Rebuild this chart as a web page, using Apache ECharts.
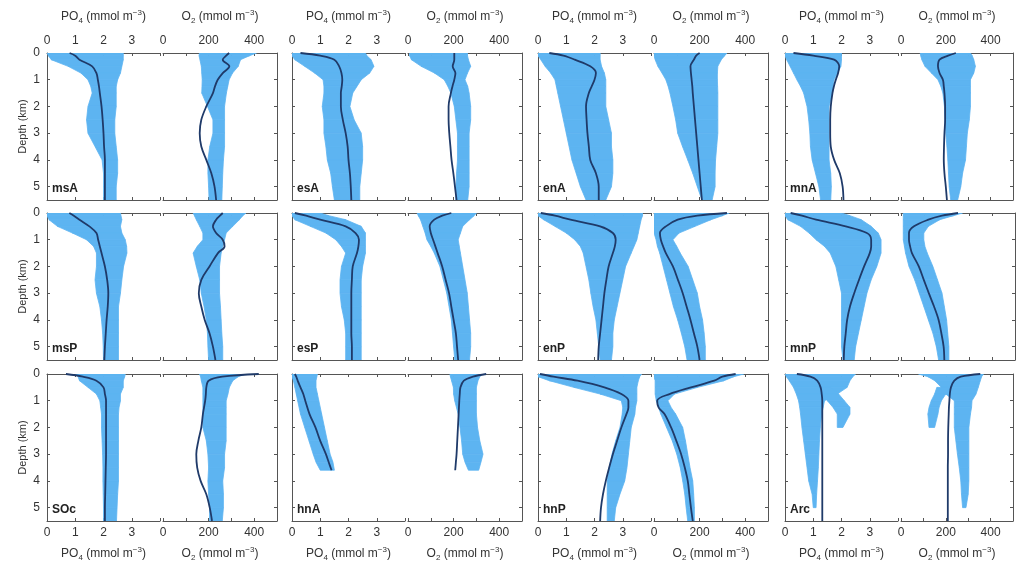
<!DOCTYPE html>
<html>
<head>
<meta charset="utf-8">
<script src="https://cdn.jsdelivr.net/npm/echarts@6/dist/echarts.min.js"></script>
<style>
  html, body { margin: 0; padding: 0; background: #fff; }
  #chart { width: 1016px; height: 567px; }
</style>
</head>
<body>
<div id="chart"></div>
<script>
// Depth levels (km) shared by the profiles
const DEPTH = [0, 0.1, 0.25, 0.5, 0.75, 1, 1.25, 1.5, 2, 2.5, 3, 3.5, 4, 4.5, 5, 5.5];
const HNA_DEPTH = [0, 0.1, 0.25, 0.5, 0.75, 1, 1.5, 2, 2.5, 3, 3.3, 3.6];
const DEPTH_TICKS = [0, 1, 2, 3, 4, 5];
const PO4_TICKS = [0, 1, 2, 3];
const O2_TICKS = [0, 200, 400];

// ---- msA ----
const msA_po4_lo   = [0, 0.05, 0.15, 0.75, 1.2, 1.45, 1.55, 1.6, 1.45, 1.4, 1.45, 1.7, 1.95, 2.0, 2.0, 2.0];
const msA_po4_hi   = [2.7, 2.7, 2.7, 2.65, 2.6, 2.5, 2.45, 2.45, 2.45, 2.4, 2.4, 2.45, 2.5, 2.5, 2.45, 2.45];
const msA_po4_line = [0.8, 1.0, 1.15, 1.6, 1.75, 1.8, 1.84, 1.87, 1.93, 1.97, 2.0, 2.02, 2.05, 2.05, 2.05, 2.05];
const msA_o2_lo    = [160, 158, 162, 168, 170, 172, 171, 170, 195, 219, 219, 205, 197, 197, 200, 202];
const msA_o2_hi    = [410, 380, 340, 330, 305, 290, 284, 278, 270, 270, 270, 270, 265, 262, 260, 258];
const msA_o2_line  = [290, 277, 262, 291, 262, 240, 228, 219, 190, 168, 161, 168, 190, 212, 226, 233];

// ---- esA ----
const esA_po4_lo   = [0, 0, 0.1, 0.45, 0.8, 1.1, 1.13, 1.13, 1.07, 1.13, 1.13, 1.2, 1.25, 1.37, 1.43, 1.5];
const esA_po4_hi   = [2.6, 2.65, 2.8, 2.9, 2.75, 2.45, 2.3, 2.15, 2.05, 2.2, 2.45, 2.5, 2.5, 2.45, 2.4, 2.4];
const esA_po4_line = [0.3, 1.0, 1.5, 1.67, 1.75, 1.78, 1.76, 1.73, 1.73, 1.8, 1.9, 1.97, 2.0, 2.05, 2.08, 2.1];
const esA_o2_lo    = [7, 7, 15, 58, 116, 159, 175, 188, 203, 210, 217, 217, 217, 213, 210, 210];
const esA_o2_hi    = [261, 261, 265, 275, 261, 250, 262, 268, 275, 275, 268, 268, 268, 268, 268, 262];
const esA_o2_line  = [203, 203, 203, 196, 208, 203, 195, 188, 178, 178, 181, 186, 191, 199, 206, 213];

// ---- enA ----
const enA_po4_lo   = [0, 0, 0.1, 0.25, 0.45, 0.6, 0.65, 0.7, 0.8, 0.9, 1.0, 1.1, 1.2, 1.35, 1.5, 1.7];
const enA_po4_hi   = [2.2, 2.2, 2.2, 2.25, 2.35, 2.4, 2.4, 2.4, 2.4, 2.5, 2.6, 2.6, 2.65, 2.65, 2.6, 2.4];
const enA_po4_line = [0.4, 0.9, 1.3, 1.85, 2.05, 2.0, 1.9, 1.8, 1.7, 1.72, 1.75, 1.8, 1.85, 2.05, 2.15, 2.15];
const enA_o2_lo    = [0, 0, 5, 17, 35, 52, 62, 70, 83, 95, 104, 125, 148, 170, 190, 210];
const enA_o2_hi    = [320, 310, 295, 280, 278, 278, 279, 280, 280, 280, 280, 275, 270, 268, 268, 255];
const enA_o2_line  = [200, 185, 175, 160, 162, 165, 168, 170, 175, 180, 185, 190, 195, 200, 205, 210];

// ---- mnA ----
const mnA_po4_lo   = [0, 0, 0.06, 0.18, 0.3, 0.42, 0.55, 0.66, 0.78, 0.84, 0.88, 0.9, 0.96, 1.08, 1.2, 1.26];
const mnA_po4_hi   = [2.0, 2.0, 2.0, 1.98, 1.86, 1.74, 1.7, 1.68, 1.56, 1.56, 1.56, 1.56, 1.56, 1.62, 1.64, 1.62];
const mnA_po4_line = [0.3, 1.0, 1.74, 1.92, 1.88, 1.8, 1.73, 1.68, 1.62, 1.6, 1.6, 1.62, 1.74, 1.94, 2.04, 2.07];
const mnA_o2_lo    = [86, 88, 93, 107, 136, 165, 178, 187, 194, 197, 200, 205, 209, 212, 215, 222];
const mnA_o2_hi    = [310, 318, 325, 332, 325, 310, 310, 310, 310, 305, 296, 292, 288, 275, 267, 253];
const mnA_o2_line  = [245, 210, 172, 165, 172, 187, 191, 194, 197, 197, 194, 192, 191, 194, 200, 205];

// ---- msP ----
const msP_po4_lo   = [0, 0, 0.07, 0.37, 0.9, 1.4, 1.65, 1.75, 1.75, 1.7, 1.75, 1.87, 1.93, 1.97, 1.99, 2.0];
const msP_po4_hi   = [2.6, 2.62, 2.65, 2.6, 2.65, 2.77, 2.82, 2.83, 2.71, 2.65, 2.6, 2.53, 2.53, 2.53, 2.53, 2.53];
const msP_po4_line = [0.79, 0.95, 1.15, 1.5, 1.75, 1.81, 1.87, 1.93, 2.05, 2.13, 2.17, 2.15, 2.11, 2.08, 2.05, 2.03];
const msP_o2_lo    = [132, 138, 146, 161, 175, 175, 150, 132, 146, 161, 168, 180, 190, 195, 197, 200];
const msP_o2_hi    = [364, 350, 335, 306, 277, 270, 262, 255, 248, 248, 248, 252, 255, 258, 262, 262];
const msP_o2_line  = [262, 250, 233, 219, 233, 262, 270, 241, 204, 168, 157, 168, 183, 204, 219, 230];

// ---- esP ----
const esP_po4_lo   = [0, 0, 0.1, 0.65, 1.2, 1.55, 1.75, 1.9, 1.75, 1.7, 1.7, 1.75, 1.85, 1.9, 1.9, 1.9];
const esP_po4_hi   = [1.0, 1.3, 1.9, 2.45, 2.6, 2.6, 2.6, 2.6, 2.5, 2.45, 2.45, 2.45, 2.45, 2.45, 2.45, 2.45];
const esP_po4_line = [0.1, 0.5, 1.0, 1.9, 2.25, 2.37, 2.35, 2.3, 2.15, 2.12, 2.1, 2.1, 2.1, 2.1, 2.12, 2.12];
const esP_o2_lo    = [40, 45, 55, 65, 75, 83, 100, 115, 140, 155, 170, 180, 190, 195, 200, 205];
const esP_o2_hi    = [300, 290, 270, 240, 230, 220, 225, 230, 240, 250, 260, 265, 270, 275, 275, 270];
const esP_o2_line  = [190, 150, 115, 95, 100, 110, 120, 130, 150, 165, 180, 190, 200, 210, 215, 220];

// ---- enP ----
const enP_po4_lo   = [0, 0, 0.2, 0.6, 1.0, 1.3, 1.5, 1.6, 1.7, 1.8, 1.87, 1.95, 2.05, 2.1, 2.15, 2.2];
const enP_po4_hi   = [3.7, 3.7, 3.65, 3.6, 3.55, 3.5, 3.4, 3.3, 3.1, 3.0, 2.9, 2.8, 2.7, 2.65, 2.65, 2.6];
const enP_po4_line = [0.1, 0.6, 1.15, 2.2, 2.65, 2.75, 2.72, 2.65, 2.5, 2.42, 2.35, 2.3, 2.25, 2.2, 2.15, 2.13];
const enP_o2_lo    = [0, 0, 0, 0, 0, 9, 15, 25, 40, 55, 70, 85, 104, 120, 135, 145];
const enP_o2_hi    = [330, 300, 250, 180, 110, 83, 100, 115, 150, 170, 190, 200, 213, 220, 225, 225];
const enP_o2_line  = [320, 190, 104, 52, 26, 30, 40, 52, 83, 105, 126, 143, 160, 175, 190, 200];

// ---- mnP ----
const mnP_po4_lo   = [0, 0, 0.1, 0.55, 0.85, 1.1, 1.4, 1.6, 1.8, 1.9, 2.0, 2.0, 2.0, 2.0, 2.0, 2.05];
const mnP_po4_hi   = [2.0, 2.3, 2.7, 3.05, 3.3, 3.4, 3.4, 3.4, 3.25, 3.05, 2.9, 2.8, 2.7, 2.6, 2.5, 2.45];
const mnP_po4_line = [0.2, 0.6, 1.1, 2.15, 2.9, 3.05, 3.05, 3.0, 2.8, 2.62, 2.45, 2.3, 2.2, 2.15, 2.1, 2.08];
const mnP_o2_lo    = [10, 10, 10, 10, 10, 10, 15, 20, 35, 60, 80, 100, 120, 140, 155, 165];
const mnP_o2_hi    = [270, 230, 170, 120, 100, 100, 105, 115, 140, 160, 180, 190, 200, 205, 210, 210];
const mnP_o2_line  = [250, 180, 120, 57, 35, 35, 40, 48, 78, 100, 122, 145, 165, 177, 187, 190];

// ---- SOc ----
const SOc_po4_lo   = [1.0, 1.1, 1.15, 1.45, 1.75, 1.87, 1.9, 1.93, 1.93, 1.95, 1.97, 1.98, 1.98, 1.99, 2.0, 2.0];
const SOc_po4_hi   = [2.77, 2.75, 2.7, 2.7, 2.6, 2.6, 2.55, 2.53, 2.53, 2.53, 2.53, 2.53, 2.53, 2.5, 2.48, 2.46];
const SOc_po4_line = [0.67, 1.27, 1.75, 2.0, 2.05, 2.09, 2.09, 2.09, 2.09, 2.09, 2.09, 2.08, 2.07, 2.06, 2.05, 2.05];
const SOc_o2_lo    = [160, 165, 168, 175, 175, 175, 175, 175, 175, 190, 197, 200, 197, 200, 204, 204];
const SOc_o2_hi    = [364, 330, 306, 291, 285, 277, 277, 277, 277, 277, 270, 270, 262, 265, 265, 260];
const SOc_o2_line  = [420, 260, 200, 190, 188, 185, 180, 175, 168, 155, 146, 150, 165, 190, 205, 215];

// ---- hnA (profiles end near 3.6 km) ----
const hnA_po4_lo   = [0, 0, 0.05, 0.1, 0.15, 0.2, 0.3, 0.45, 0.6, 0.75, 0.85, 1.0];
const hnA_po4_hi   = [0.9, 0.88, 0.85, 0.85, 0.9, 0.95, 1.05, 1.15, 1.25, 1.35, 1.45, 1.5];
const hnA_po4_line = [0.1, 0.15, 0.2, 0.3, 0.4, 0.47, 0.62, 0.83, 1.0, 1.2, 1.3, 1.4];
const hnA_o2_lo    = [184, 186, 191, 199, 200, 205, 220, 228, 235, 240, 250, 265];
const hnA_o2_hi    = [328, 315, 307, 300, 300, 300, 300, 305, 315, 329, 320, 310];
const hnA_o2_line  = [343, 285, 245, 230, 227, 225, 222, 219, 216, 213, 210, 207];

// ---- hnP ----
const hnP_po4_lo   = [0, 0, 0.4, 1.27, 2.2, 2.95, 3.0, 2.98, 2.9, 2.75, 2.62, 2.52, 2.45, 2.45, 2.45, 2.45];
const hnP_po4_hi   = [3.67, 3.6, 3.55, 3.5, 3.5, 3.5, 3.45, 3.43, 3.3, 3.25, 3.2, 3.15, 3.07, 2.9, 2.75, 2.7];
const hnP_po4_line = [0.07, 0.55, 1.4, 2.35, 2.95, 3.2, 3.2, 3.13, 2.95, 2.8, 2.65, 2.52, 2.4, 2.3, 2.23, 2.2];
const hnP_o2_lo    = [0, 0, 5, 5, 5, 10, 20, 30, 55, 80, 100, 115, 126, 135, 141, 148];
const hnP_o2_hi    = [394, 350, 307, 191, 90, 61, 75, 95, 126, 138, 148, 158, 170, 174, 177, 177];
const hnP_o2_line  = [358, 300, 264, 162, 68, 14, 20, 46, 75, 98, 119, 135, 148, 155, 162, 170];

// ---- Arc (main cloud plus a detached branch) ----
const Arc_po4_lo   = [0, 0.05, 0.15, 0.3, 0.4, 0.48, 0.52, 0.55, 0.6, 0.66, 0.72, 0.78, 0.84, 0.96, 1.0, null];
const Arc_po4_hi   = [2.5, 2.4, 2.3, 2.2, 1.85, 1.4, 1.35, 1.3, 1.25, 1.22, 1.2, 1.18, 1.15, 1.12, 1.1, null];
const Arc_po4_b_lo = [null, null, null, 1.2, 1.3, 1.5, 1.7, 1.85, 1.85, null, null, null, null, null, null, null];
const Arc_po4_b_hi = [null, null, null, 1.6, 1.9, 2.1, 2.3, 2.3, 2.05, null, null, null, null, null, null, null];
const Arc_po4_line = [0.42, 0.9, 1.14, 1.26, 1.3, 1.32, 1.32, 1.32, 1.32, 1.32, 1.32, 1.32, 1.32, 1.32, 1.32, 1.32];
const Arc_o2_lo    = [78, 120, 151, 180, 200, 238, 238, 238, 238, 245, 252, 260, 267, 270, 275, null];
const Arc_o2_hi    = [368, 360, 354, 345, 335, 317, 315, 310, 303, 303, 303, 303, 303, 300, 290, null];
const Arc_o2_b_lo  = [null, null, null, 160, 150, 135, 125, 120, 125, null, null, null, null, null, null, null];
const Arc_o2_b_hi  = [null, null, null, 220, 200, 180, 170, 165, 150, null, null, null, null, null, null, null];
const Arc_o2_line  = [354, 267, 238, 223, 218, 216, 214, 213, 211, 210, 210, 209, 209, 209, 209, 209];

// Regions in reading order (4 per row)
const REGIONS = [
  { name: 'msA', depth: DEPTH, po4: [msA_po4_lo, msA_po4_hi, msA_po4_line], o2: [msA_o2_lo, msA_o2_hi, msA_o2_line] },
  { name: 'esA', depth: DEPTH, po4: [esA_po4_lo, esA_po4_hi, esA_po4_line], o2: [esA_o2_lo, esA_o2_hi, esA_o2_line] },
  { name: 'enA', depth: DEPTH, po4: [enA_po4_lo, enA_po4_hi, enA_po4_line], o2: [enA_o2_lo, enA_o2_hi, enA_o2_line] },
  { name: 'mnA', depth: DEPTH, po4: [mnA_po4_lo, mnA_po4_hi, mnA_po4_line], o2: [mnA_o2_lo, mnA_o2_hi, mnA_o2_line] },
  { name: 'msP', depth: DEPTH, po4: [msP_po4_lo, msP_po4_hi, msP_po4_line], o2: [msP_o2_lo, msP_o2_hi, msP_o2_line] },
  { name: 'esP', depth: DEPTH, po4: [esP_po4_lo, esP_po4_hi, esP_po4_line], o2: [esP_o2_lo, esP_o2_hi, esP_o2_line] },
  { name: 'enP', depth: DEPTH, po4: [enP_po4_lo, enP_po4_hi, enP_po4_line], o2: [enP_o2_lo, enP_o2_hi, enP_o2_line] },
  { name: 'mnP', depth: DEPTH, po4: [mnP_po4_lo, mnP_po4_hi, mnP_po4_line], o2: [mnP_o2_lo, mnP_o2_hi, mnP_o2_line] },
  { name: 'SOc', depth: DEPTH, po4: [SOc_po4_lo, SOc_po4_hi, SOc_po4_line], o2: [SOc_o2_lo, SOc_o2_hi, SOc_o2_line] },
  { name: 'hnA', depth: HNA_DEPTH, po4: [hnA_po4_lo, hnA_po4_hi, hnA_po4_line], o2: [hnA_o2_lo, hnA_o2_hi, hnA_o2_line] },
  { name: 'hnP', depth: DEPTH, po4: [hnP_po4_lo, hnP_po4_hi, hnP_po4_line], o2: [hnP_o2_lo, hnP_o2_hi, hnP_o2_line] },
  { name: 'Arc', depth: DEPTH, po4: [Arc_po4_lo, Arc_po4_hi, Arc_po4_line, Arc_po4_b_lo, Arc_po4_b_hi],
                                o2: [Arc_o2_lo, Arc_o2_hi, Arc_o2_line, Arc_o2_b_lo, Arc_o2_b_hi] }
];

// Layout (pixels)
const REGION_LEFT = [47, 292, 538, 785];
const ROW_TOP = [53, 213, 374];
const ROW_H = 147;
const PO4_W = 113, O2_OFF = 116, O2_W = 114;

const CLOUD = '#5db4f1';
const PROFILE = '#1f3a69';
const FRAME = '#555555';
const TEXT = '#333333';
const FONT = 'Liberation Sans, Arial, sans-serif';

const RICH = {
  t: { fontSize: 12, color: TEXT, fontFamily: FONT, lineHeight: 16 },
  s: { fontSize: 8, color: TEXT, fontFamily: FONT, lineHeight: 16, verticalAlign: 'bottom', padding: [5, 0, 0, 0] },
  p: { fontSize: 8, color: TEXT, fontFamily: FONT, lineHeight: 16, verticalAlign: 'top', padding: [0, 0, 5, 0] }
};
const PO4_NAME = '{t|PO}{s|4}{t| (mmol m}{p|−3}{t|)}';
const O2_NAME = '{t|O}{s|2}{t| (mmol m}{p|−3}{t|)}';

// Turn lo/hi arrays into band segments [lo0, hi0, d0, lo1, hi1, d1]
function bandSegments(lo, hi, depth) {
  const out = [];
  for (let i = 0; i < depth.length - 1; i++) {
    if (lo[i] == null || hi[i] == null || lo[i + 1] == null || hi[i + 1] == null) continue;
    out.push([lo[i], hi[i], depth[i], lo[i + 1], hi[i + 1], depth[i + 1]]);
  }
  return out;
}

function renderBand(params, api) {
  const p1 = api.coord([api.value(0), api.value(2)]);
  const p2 = api.coord([api.value(1), api.value(2)]);
  const p3 = api.coord([api.value(4), api.value(5)]);
  const p4 = api.coord([api.value(3), api.value(5)]);
  return {
    type: 'polygon',
    shape: { points: [p1, p2, p3, p4] },
    style: { fill: CLOUD, stroke: CLOUD, lineWidth: 0.8 }
  };
}

const grids = [], xAxes = [], yAxes = [], series = [], graphics = [];

function xAxisDef(gridIndex, position, kind, showLabel) {
  const isPO4 = kind === 'po4';
  return {
    type: 'value', gridIndex, position,
    min: 0, max: isPO4 ? 4 : 500, interval: isPO4 ? 1 : 100,
    axisLine: { show: true, onZero: false, lineStyle: { color: FRAME, width: 1 } },
    axisTick: { show: true, inside: true, length: 3, lineStyle: { color: FRAME } },
    splitLine: { show: false },
    axisLabel: {
      show: showLabel, margin: 6,
      color: TEXT, fontSize: 12, fontFamily: FONT,
      formatter: v => isPO4 ? (PO4_TICKS.includes(v) ? String(v) : '')
                            : (O2_TICKS.includes(v) ? String(v) : '')
    },
    name: showLabel ? (isPO4 ? PO4_NAME : O2_NAME) : '',
    nameLocation: 'middle',
    nameGap: position === 'top' ? 28 : 25,
    nameTextStyle: { rich: RICH }
  };
}

REGIONS.forEach((reg, k) => {
  const row = Math.floor(k / 4), col = k % 4;
  const top = ROW_TOP[row];
  ['po4', 'o2'].forEach(kind => {
    const g = grids.length;
    const left = REGION_LEFT[col] + (kind === 'po4' ? 0 : O2_OFF);
    grids.push({ left, top, width: kind === 'po4' ? PO4_W : O2_W, height: ROW_H });
    xAxes.push(xAxisDef(g, 'top', kind, row === 0));
    const xBottom = xAxes.length;
    xAxes.push(xAxisDef(g, 'bottom', kind, row === 2));
    const showY = kind === 'po4' && col === 0;
    yAxes.push({
      type: 'value', gridIndex: g, inverse: true, min: 0, max: 5.5, interval: 1,
      position: kind === 'po4' ? 'left' : 'right',
      axisLine: { show: true, onZero: false, lineStyle: { color: FRAME, width: 1 } },
      axisTick: { show: true, inside: true, length: 3, lineStyle: { color: FRAME } },
      splitLine: { show: false },
      axisLabel: {
        show: showY, color: TEXT, fontSize: 12, fontFamily: FONT, margin: 7,
        formatter: v => DEPTH_TICKS.includes(v) ? String(v) : ''
      },
      name: showY ? 'Depth (km)' : '',
      nameLocation: 'middle', nameRotate: 90, nameGap: 19,
      nameTextStyle: { color: TEXT, fontSize: 11, fontFamily: FONT }
    });
    const y = yAxes.length - 1;
    const arr = reg[kind];
    const bands = [[arr[0], arr[1]]];
    if (arr.length > 3) bands.push([arr[3], arr[4]]);
    bands.forEach(([lo, hi]) => {
      series.push({
        type: 'custom', xAxisIndex: xBottom, yAxisIndex: y,
        renderItem: renderBand, clip: true, silent: true,
        encode: { x: [0, 1, 3, 4], y: [2, 5] },
        data: bandSegments(lo, hi, reg.depth), z: 1
      });
    });
    series.push({
      type: 'line', xAxisIndex: xBottom, yAxisIndex: y,
      data: reg.depth.map((d, i) => [arr[2][i], d]),
      showSymbol: false, smooth: 0.35, silent: true, z: 3,
      lineStyle: { color: PROFILE, width: 1.8 }
    });
  });
  graphics.push({
    type: 'text', left: REGION_LEFT[col] + 5, top: top + ROW_H - 17,
    style: { text: reg.name, font: 'bold 12px ' + FONT, fill: '#222' }, z: 10
  });
});

const chart = echarts.init(document.getElementById('chart'), null, { renderer: 'canvas' });
chart.setOption({
  animation: false,
  backgroundColor: '#ffffff',
  grid: grids,
  xAxis: xAxes,
  yAxis: yAxes,
  series: series,
  graphic: graphics
});
</script>
</body>
</html>
